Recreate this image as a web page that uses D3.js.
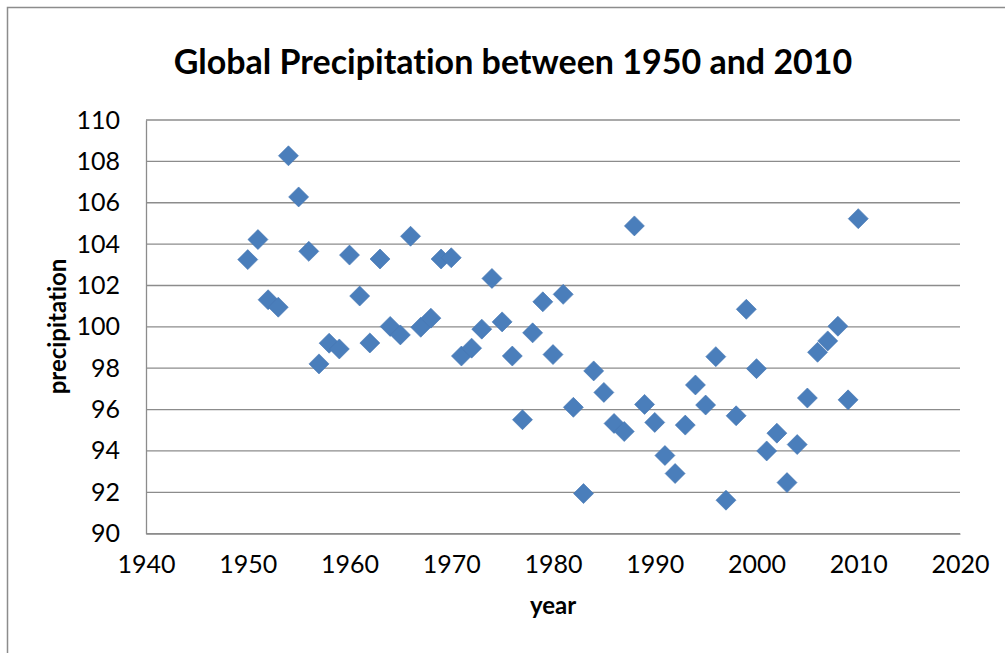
<!DOCTYPE html>
<html>
<head>
<meta charset="utf-8">
<script src="https://cdn.jsdelivr.net/npm/d3@7"></script>
<style>
  body { margin: 0; background: #fff; }
  text { font-family: Lato, "Open Sans", sans-serif; fill: #000; font-variant-ligatures: none; }
</style>
</head>
<body>
<div id="chart"></div>
<script>
// data
var years = [1950, 1951, 1952, 1953, 1954, 1955, 1956, 1957, 1958, 1959,
             1960, 1961, 1962, 1963, 1964, 1965, 1966, 1967, 1968, 1969,
             1970, 1971, 1972, 1973, 1974, 1975, 1976, 1977, 1978, 1979,
             1980, 1981, 1982, 1983, 1984, 1985, 1986, 1987, 1988, 1989,
             1990, 1991, 1992, 1993, 1994, 1995, 1996, 1997, 1998, 1999,
             2000, 2001, 2002, 2003, 2004, 2005, 2006, 2007, 2008, 2009,
             2010];
var precipitation = [103.25, 104.22, 101.31, 100.95, 108.27, 106.28, 103.65, 98.21, 99.21, 98.93,
                     103.47, 101.49, 99.22, 103.28, 100.02, 99.61, 104.38, 99.98, 100.42, 103.28,
                     103.34, 98.59, 98.97, 99.89, 102.34, 100.24, 98.59, 95.51, 99.71, 101.21,
                     98.66, 101.57, 96.11, 91.94, 97.87, 96.83, 95.33, 94.94, 104.88, 96.25,
                     95.38, 93.78, 92.91, 95.25, 97.19, 96.22, 98.56, 91.62, 95.70, 100.85,
                     97.98, 94.00, 94.86, 92.47, 94.31, 96.56, 98.77, 99.32, 100.03, 96.47,
                     105.23];
var xTicks = [1940, 1950, 1960, 1970, 1980, 1990, 2000, 2010, 2020];
var yTicks = [90, 92, 94, 96, 98, 100, 102, 104, 106, 108, 110];

var title = "Global Precipitation between 1950 and 2010";

var W = 1005, H = 653;
var margin = {top: 120, right: 45, bottom: 120, left: 146},
    width = W - margin.left - margin.right,
    height = H - margin.top - margin.bottom;

var svg = d3.select("#chart").append("svg")
    .attr("width", W)
    .attr("height", H);

// outer chart frame (runs off the right and bottom)
svg.append("rect")
    .attr("x", 7.5).attr("y", 7.5)
    .attr("width", 1100).attr("height", 800)
    .attr("fill", "none")
    .attr("stroke", "#8c8c8c")
    .attr("stroke-width", 1.5);

var g = svg.append("g")
    .attr("transform", "translate(" + margin.left + "," + margin.top + ")");

var x = d3.scaleLinear().domain([1940, 2020]).range([0, width]);
var y = d3.scaleLinear().domain([90, 110]).range([height + 0.7, 0]);

// gridlines
g.append("g")
  .selectAll("line")
  .data(yTicks)
  .enter().append("line")
    .attr("x1", 0).attr("x2", width)
    .attr("y1", function(d) { return y(d); })
    .attr("y2", function(d) { return y(d); })
    .attr("stroke", "#8c8c8c")
    .attr("stroke-width", 1.3);

// y axis
var yAxis = g.append("g")
    .call(d3.axisLeft(y).tickValues(yTicks).tickSize(0).tickPadding(26));
yAxis.select(".domain").attr("stroke", "#8c8c8c").attr("stroke-width", 1.3);
yAxis.selectAll("text")
    .style("font-family", "Lato, sans-serif")
    .style("font-size", "25px");

// x axis
var xAxis = g.append("g")
    .attr("transform", "translate(0," + y(90) + ")")
    .call(d3.axisBottom(x).tickValues(xTicks).tickFormat(d3.format("d")).tickSize(0).tickPadding(22));
xAxis.select(".domain").attr("stroke", "#8c8c8c").attr("stroke-width", 1.3);
xAxis.selectAll("text")
    .style("font-family", "Lato, sans-serif")
    .style("font-size", "25px");

// points
var diamond = d3.symbol().type(d3.symbolSquare).size(200);
g.append("g")
  .selectAll("path")
  .data(years)
  .enter().append("path")
    .attr("d", diamond)
    .attr("transform", function(d, i) {
      return "translate(" + x(d) + "," + y(precipitation[i]) + ") rotate(45)";
    })
    .attr("fill", "#4a7ebb")
    .attr("stroke", "#4677b3")
    .attr("stroke-width", 0.6);

// title
svg.append("text")
    .attr("x", 513)
    .attr("y", 74)
    .attr("text-anchor", "middle")
    .style("font-size", "34px")
    .style("font-weight", "bold")
    .text(title);

// axis titles
svg.append("text")
    .attr("x", margin.left + width / 2)
    .attr("y", 614)
    .attr("text-anchor", "middle")
    .style("font-size", "24px")
    .style("font-weight", "bold")
    .text("year");

svg.append("text")
    .attr("transform", "translate(66," + (margin.top + height / 2) + ") rotate(-90)")
    .attr("text-anchor", "middle")
    .style("font-size", "24px")
    .style("font-weight", "bold")
    .text("precipitation");
</script>
</body>
</html>
